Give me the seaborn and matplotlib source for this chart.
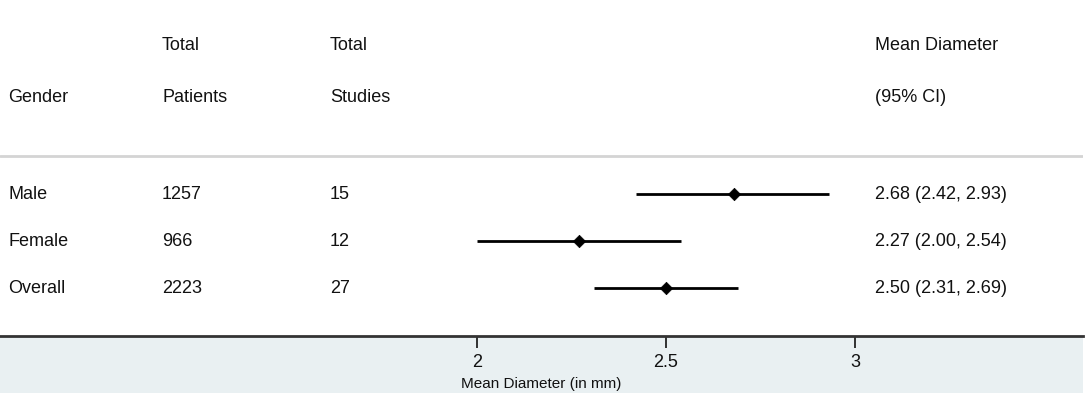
import matplotlib
matplotlib.use("Agg")
import matplotlib.pyplot as plt
import matplotlib.transforms as mtransforms
from matplotlib.patches import Rectangle
import seaborn as sns
import pandas as pd

# Table values
gender = ["Male", "Female", "Overall"]
patients = [1257, 966, 2223]
studies = [15, 12, 27]
mean_d = [2.68, 2.27, 2.50]
ci_low = [2.42, 2.00, 2.31]
ci_high = [2.93, 2.54, 2.69]
ticks = [2, 2.5, 3]

df = pd.DataFrame({"gender": gender, "patients": patients, "studies": studies,
                   "mean": mean_d, "lo": ci_low, "hi": ci_high})
df["row"] = range(len(df))

sns.set_style("white")
plt.rcParams["font.family"] = ["Liberation Sans", "DejaVu Sans"]
plt.rcParams["text.color"] = "#111111"
plt.rcParams["xtick.color"] = "#111111"
plt.rcParams["axes.labelcolor"] = "#111111"

fig = plt.figure(figsize=(10.89, 3.96), dpi=100)
W, H = 1089, 396
ax = fig.add_axes([0, (H - 336) / H, 1083 / W, 336 / H])
ax.set_zorder(2)

# light band under the axis
fig.patches.append(Rectangle((0, (H - 393) / H), 1083 / W, (393 - 336) / H,
                             transform=fig.transFigure, facecolor="#e9f0f2",
                             edgecolor="none", zorder=-1))

# confidence intervals and point estimates
ax.hlines(df["row"], df["lo"], df["hi"], color="black", lw=2, zorder=2)
sns.scatterplot(data=df, x="mean", y="row", marker="D", s=40, color="black",
                edgecolor="black", zorder=3, ax=ax, legend=False)

ax.set_xlim(0.738, 3.603)
ax.set_ylim(3.02, -4.13)

trans = mtransforms.blended_transform_factory(ax.transAxes, ax.transData)
cols = [0.0074, 0.1496, 0.3047, 0.808]
fs = 13
# header
ax.text(cols[1], -3.17, "Total", transform=trans, fontsize=fs, va="center")
ax.text(cols[2], -3.17, "Total", transform=trans, fontsize=fs, va="center")
ax.text(cols[3], -3.17, "Mean Diameter", transform=trans, fontsize=fs, va="center")
ax.text(cols[0], -2.06, "Gender", transform=trans, fontsize=fs, va="center")
ax.text(cols[1], -2.06, "Patients", transform=trans, fontsize=fs, va="center")
ax.text(cols[2], -2.06, "Studies", transform=trans, fontsize=fs, va="center")
ax.text(cols[3], -2.06, "(95% CI)", transform=trans, fontsize=fs, va="center")
ax.axhline(-0.81, color="#d4d4d4", lw=2)

for _, r in df.iterrows():
    y = r["row"]
    ax.text(cols[0], y, r["gender"], transform=trans, fontsize=fs, va="center")
    ax.text(cols[1], y, f"{r['patients']}", transform=trans, fontsize=fs, va="center")
    ax.text(cols[2], y, f"{r['studies']}", transform=trans, fontsize=fs, va="center")
    ax.text(cols[3], y, f"{r['mean']:.2f} ({r['lo']:.2f}, {r['hi']:.2f})",
            transform=trans, fontsize=fs, va="center")

for s in ["top", "left", "right"]:
    ax.spines[s].set_visible(False)
ax.spines["bottom"].set_color("#333333")
ax.spines["bottom"].set_linewidth(2)
ax.set_yticks([])
ax.set_xticks(ticks)
ax.set_xticklabels(["2", "2.5", "3"])
ax.tick_params(axis="x", direction="out", length=8.5, width=1.3, color="#222222",
               labelsize=13, pad=4.5, bottom=True)
ax.set_xlabel("Mean Diameter (in mm)", fontsize=11, labelpad=4)
ax.set_ylabel("")
ax.patch.set_alpha(0)

fig.savefig("out.png", dpi=100)
